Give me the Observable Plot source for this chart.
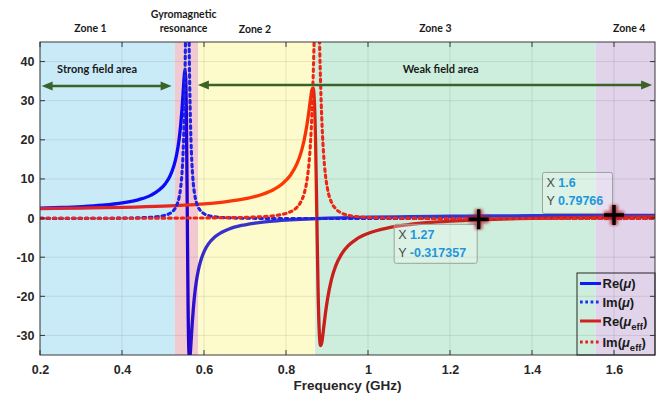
<!DOCTYPE html>
<html><head><meta charset="utf-8">
<script src="https://cdn.jsdelivr.net/npm/d3@7"></script>
<script src="https://cdn.jsdelivr.net/npm/@observablehq/plot@0.6"></script>
<style>body{margin:0;background:#fff}</style>
</head><body><div id="chart"></div>
<script>
// ---- data ----
const freqMu = [0.2,0.25,0.3,0.35,0.4,0.44,0.47,0.49,0.505,0.515,0.525,0.532,0.538,0.542,0.545,0.548,0.55,0.552,0.554,0.556,0.558,0.56,0.562,0.564,0.566,0.568,0.57,0.573,0.576,0.58,0.585,0.59,0.6,0.61,0.625,0.64,0.66,0.69,0.72,0.76,0.8,0.85,0.9,1.0,1.1,1.2,1.3,1.4,1.5,1.6,1.7];
const reMu = [2.68,2.83,3.06,3.41,4.01,4.86,6.00,7.34,8.98,10.68,13.36,16.32,20.22,24.01,27.77,32.38,35.62,37.87,36.25,25.0,1.43,-22.48,-34.14,-35.87,-33.54,-30.18,-26.93,-22.75,-19.47,-16.17,-13.2,-11.06,-8.22,-6.42,-4.71,-3.63,-2.66,-1.76,-1.20,-0.71,-0.385,-0.107,0.087,0.339,0.494,0.597,0.670,0.724,0.765,0.7977,0.8235];
const imMu = [0.04,0.045,0.057,0.078,0.12,0.20,0.34,0.55,0.87,1.29,2.12,3.32,5.39,8.02,11.45,17.40,23.92,33.87,48.34,65.2,74.0,65.6,48.6,33.87,23.72,17.09,12.72,8.63,6.18,4.22,2.83,2.02,1.17,0.75,0.44,0.29,0.18,0.10,0.065,0.04,0.026,0.017,0.011,0.006,0.004,0.003,0.002,0.002,0.001,0.001,0.001];

const freqEff = [0.2,0.3,0.4,0.5,0.55,0.6,0.65,0.7,0.74,0.77,0.79,0.81,0.825,0.835,0.843,0.85,0.855,0.859,0.862,0.865,0.868,0.871,0.874,0.877,0.88,0.883,0.886,0.89,0.895,0.9,0.91,0.92,0.935,0.95,0.97,1.0,1.05,1.1,1.15,1.2,1.27,1.35,1.4,1.5,1.6,1.7];
const reEff = [2.55,2.67,2.86,3.18,3.43,3.78,4.28,5.08,6.15,7.49,8.89,11.13,13.89,16.73,20.02,24.03,27.69,30.90,32.92,33.39,29.90,19.03,0.48,-18.18,-29.13,-32.46,-31.70,-28.52,-24.22,-20.60,-15.43,-12.11,-8.97,-7.00,-5.30,-3.74,-2.32,-1.52,-1.01,-0.66,-0.3174,-0.061,0.061,0.244,0.375,0.472];
const imEff = [0.06,0.067,0.08,0.105,0.126,0.159,0.213,0.315,0.483,0.744,1.08,1.75,2.83,4.26,6.38,9.84,14.27,20.11,26.70,35.98,48.06,60.37,66.05,60.26,47.61,35.17,25.66,17.25,11.12,7.61,4.09,2.50,1.38,0.86,0.51,0.27,0.116,0.058,0.031,0.017,0.006,0.001,0,0,0,0];

const xDomain = [0.2, 1.7];
const yDomain = [-35, 45];
const xTicks = [0.2,0.4,0.6,0.8,1.0,1.2,1.4,1.6];
const yTicks = [-30,-20,-10,0,10,20,30,40];

const zoneStart = [0.2, 0.529, 0.586, 0.871, 1.555];
const zoneEnd   = [0.529, 0.586, 0.871, 1.555, 1.7];
const zoneFill  = ["#c9ebf8", "#f1c9d1", "#fdfbcb", "#cdeedc", "#e0d3ea"];

const zoneLabelText = ["Zone 1", "Gyromagnetic", "resonance", "Zone 2", "Zone 3", "Zone 4"];
const zoneLabelX = [0.322, 0.549, 0.549, 0.723, 1.163, 1.636];
const zoneLabelY = [48.6, 52.0, 48.6, 48.2, 48.6, 48.6];

const areaText = ["Strong field area", "Weak field area"];
const areaTextX = [0.338, 1.176];
const areaTextY = [38.1, 38.2];
const arrowStart = [0.204, 0.585];
const arrowEnd = [0.521, 1.693];
const arrowY = [33.75, 34.0];

const tipX = [1.27, 1.6];
const tipY = [-0.317357, 0.79766];
const tipXText = ["1.27", "1.6"];
const tipYText = ["-0.317357", "0.79766"];

const seriesBase = ["Re(", "Im(", "Re(", "Im("];
const seriesSub = ["", "", "eff", "eff"];
const seriesColor = ["#0a1cf5", "#1a30f0", "#d42020", "#e02020"];
const seriesDash = [null, "2.7,2.6", null, "2.7,2.6"];

// ---- tables ----
const muRows = freqMu.map((f, i) => ({f, re: reMu[i], im: imMu[i]}));
const effRows = freqEff.map((f, i) => ({f, re: reEff[i], im: imEff[i]}));
const zoneRows = zoneStart.map((s, i) => ({s, e: zoneEnd[i], lo: yDomain[0], hi: yDomain[1], c: zoneFill[i]}));
const zoneLabelRows = zoneLabelText.map((t, i) => ({t, x: zoneLabelX[i], y: zoneLabelY[i]}));
const areaRows = areaText.map((t, i) => ({t, x: areaTextX[i], y: areaTextY[i]}));

const fmt = d => String(Math.round(d * 10) / 10);
const NS = "http://www.w3.org/2000/svg";
function el(tag, attrs = {}, text) {
  const e = document.createElementNS(NS, tag);
  for (const [k, v] of Object.entries(attrs)) if (v != null) e.setAttribute(k, v);
  if (text != null) e.textContent = text;
  return e;
}
function frameBox(d) {
  return {L: d.marginLeft, R: d.width - d.marginRight, T: d.marginTop, B: d.height - d.marginBottom};
}

function defsMark(index, scales, values, dim) {
  const x = scales.x;
  const defs = el("defs");
  const grad = (id, stops) => {
    const g = el("linearGradient", {id, gradientUnits: "userSpaceOnUse", x1: x(xDomain[0]), x2: x(xDomain[1]), y1: 0, y2: 0});
    const span = xDomain[1] - xDomain[0];
    for (const [f, c] of stops) g.append(el("stop", {offset: (f - xDomain[0]) / span, "stop-color": c}));
    defs.append(g);
  };
  grad("gBlue", [[0.2, "#1212ee"], [0.55, "#0a0af8"], [0.558, "#2400cf"], [0.6, "#3a30c8"], [1.0, "#3838cc"], [1.7, "#2233e0"]]);
  grad("gRed", [[0.2, "#d42838"], [0.5, "#e6261f"], [0.62, "#f8320c"], [0.8, "#ff3a00"], [0.862, "#f33006"], [0.874, "#c81f1c"], [1.7, "#c62a20"]]);
  const f = el("filter", {id: "glow", x: "-60%", y: "-60%", width: "220%", height: "220%"});
  f.append(el("feGaussianBlur", {stdDeviation: 1.8}));
  defs.append(f);
  return defs;
}

function gridMark(index, scales, values, dim) {
  const {x, y} = scales;
  const {L, R, T, B} = frameBox(dim);
  const g = el("g", {stroke: "#000", "stroke-opacity": 0.13, "stroke-width": 0.7});
  for (const t of xTicks) g.append(el("line", {x1: x(t), x2: x(t), y1: T, y2: B}));
  for (const t of yTicks) g.append(el("line", {x1: L, x2: R, y1: y(t), y2: y(t)}));
  return g;
}

function frameMark(index, scales, values, dim) {
  const {x, y} = scales;
  const {L, R, T, B} = frameBox(dim);
  const g = el("g");
  const s = el("g", {stroke: "#262626", "stroke-width": 0.9, fill: "none"});
  s.append(el("rect", {x: L, y: T, width: R - L, height: B - T}));
  const k = 5;
  for (const t of xTicks) {
    s.append(el("line", {x1: x(t), x2: x(t), y1: B, y2: B - k}));
    s.append(el("line", {x1: x(t), x2: x(t), y1: T, y2: T + k}));
  }
  for (const t of yTicks) {
    s.append(el("line", {x1: L, x2: L + k, y1: y(t), y2: y(t)}));
    s.append(el("line", {x1: R, x2: R - k, y1: y(t), y2: y(t)}));
  }
  g.append(s);
  g.append(el("text", {x: (L + R) / 2, y: dim.height - 6, "text-anchor": "middle", fill: "#262626",
    "font-family": "'Liberation Sans', Arial, sans-serif", "font-weight": "bold", "font-size": 13.5}, "Frequency (GHz)"));
  return g;
}

function arrowsMark(index, scales) {
  const {x, y} = scales;
  const col = "#3b6329";
  const g = el("g");
  arrowStart.forEach((s, i) => {
    const x1 = x(s), x2 = x(arrowEnd[i]), py = y(arrowY[i]);
    g.append(el("line", {x1: x1 + 6, x2: x2 - 6, y1: py, y2: py, stroke: col, "stroke-width": 2.6}));
    g.append(el("path", {d: `M${x1},${py}L${x1 + 11},${py - 4.5}L${x1 + 11},${py + 4.5}Z`, fill: col}));
    g.append(el("path", {d: `M${x2},${py}L${x2 - 11},${py - 4.5}L${x2 - 11},${py + 4.5}Z`, fill: col}));
  });
  return g;
}

function tipsMark(index, scales) {
  const {x, y} = scales;
  const g = el("g", {"font-family": "'Liberation Sans', Arial, sans-serif", "font-size": 12.5, "text-anchor": "start"});
  tipX.forEach((tx, i) => {
    const px = x(tx), py = y(tipY[i]);
    const below = i === 0;
    const w = below ? 83 : 70, h = below ? 39 : 41;
    const bx = px - w - 1.5, by = below ? py + 5 : py - h - 1.5;
    g.append(el("rect", {x: bx, y: by, width: w, height: h, rx: 2, fill: "#ffffff", "fill-opacity": 0.28, stroke: "#9aa2a2", "stroke-width": 1}));
    const l1 = el("text", {x: bx + 4, y: by + 15, "text-anchor": "start"});
    l1.append(el("tspan", {fill: "#4a4a4a", "font-weight": "normal"}, "X "));
    l1.append(el("tspan", {fill: "#1e96dc", "font-weight": "bold"}, tipXText[i]));
    const l2 = el("text", {x: bx + 4, y: by + 33, "text-anchor": "start"});
    l2.append(el("tspan", {fill: "#4a4a4a", "font-weight": "normal"}, "Y "));
    l2.append(el("tspan", {fill: "#1e96dc", "font-weight": "bold"}, tipYText[i]));
    g.append(l1); g.append(l2);
    const a = 10;
    const plus = `M${px - a},${py}H${px + a}M${px},${py - a}V${py + a}`;
    g.append(el("path", {d: plus, stroke: "#b0161c", "stroke-width": 7.5, "stroke-opacity": 0.75, filter: "url(#glow)", fill: "none"}));
    g.append(el("path", {d: plus, stroke: "#000", "stroke-width": 3.4, fill: "none"}));
  });
  return g;
}

function legendMark(index, scales, values, dim) {
  const {R, B} = frameBox(dim);
  const bw = 78, bh = 82;
  const bx = R - bw, by = B - bh;
  const g = el("g", {"font-family": "'Liberation Sans', Arial, sans-serif", "font-weight": "bold", "font-size": 13, fill: "#1a1a1a", "text-anchor": "start"});
  g.append(el("rect", {x: bx, y: by, width: bw, height: bh, fill: "none", stroke: "#262626", "stroke-width": 1}));
  const rowY = [10.5, 29, 48, 69];
  seriesBase.forEach((b, i) => {
    const cy = by + rowY[i];
    g.append(el("line", {x1: bx + 3, x2: bx + 24, y1: cy, y2: cy, stroke: seriesColor[i], "stroke-width": 3,
      "stroke-dasharray": seriesDash[i]}));
    const t = el("text", {x: bx + 25.5, y: cy + 4.5, "text-anchor": "start"});
    t.append(el("tspan", {}, b));
    t.append(el("tspan", {"font-style": "italic"}, "μ"));
    if (seriesSub[i]) {
      t.append(el("tspan", {dy: 4, "font-size": 9.5}, seriesSub[i]));
      t.append(el("tspan", {dy: -4}, ")"));
    } else {
      t.append(el("tspan", {}, ")"));
    }
    g.append(t);
  });
  return g;
}

const lineOpts = {x: "f", curve: "monotone-x", clip: true};
const chart = Plot.plot({
  width: 657,
  height: 396,
  marginLeft: 40,
  marginRight: 2,
  marginTop: 42,
  marginBottom: 41,
  style: {fontFamily: "'Liberation Sans', Arial, sans-serif", fontSize: "12.5px", fontWeight: "bold", color: "#262626", background: "#fff", overflow: "visible"},
  x: {domain: xDomain, ticks: xTicks, tickFormat: fmt, tickSize: 0, tickPadding: 10, label: null},
  y: {domain: yDomain, ticks: yTicks, tickFormat: fmt, tickSize: 0, tickPadding: 6, label: null},
  marks: [
    defsMark,
    ...zoneRows.map(z => Plot.rect([z], {x1: "s", x2: "e", y1: "lo", y2: "hi", fill: z.c})),
    gridMark,
    Plot.line(muRows, {...lineOpts, y: "re", stroke: "url(#gBlue)", strokeWidth: 3.3}),
    Plot.line(effRows, {...lineOpts, y: "re", stroke: "url(#gRed)", strokeWidth: 3.3}),
    Plot.line(muRows, {...lineOpts, y: "im", stroke: "#1c22e6", strokeWidth: 3.1, strokeDasharray: "2.6,3.8"}),
    Plot.line(effRows, {...lineOpts, y: "im", stroke: "#ee2616", strokeWidth: 3.1, strokeDasharray: "2.6,3.8"}),
    arrowsMark,
    Plot.text(areaRows, {x: "x", y: "y", text: "t", fontFamily: "Lato, 'Open Sans', sans-serif", fontWeight: "bold", fontSize: 11, fill: "#1a1a1a"}),
    Plot.text(zoneLabelRows, {x: "x", y: "y", text: "t", fontFamily: "Lato, 'Open Sans', sans-serif", fontWeight: "bold", fontSize: 10.5, fill: "#1a1a1a"}),
    frameMark,
    tipsMark,
    legendMark
  ]
});
document.getElementById("chart").append(chart);
</script>
</body></html>
